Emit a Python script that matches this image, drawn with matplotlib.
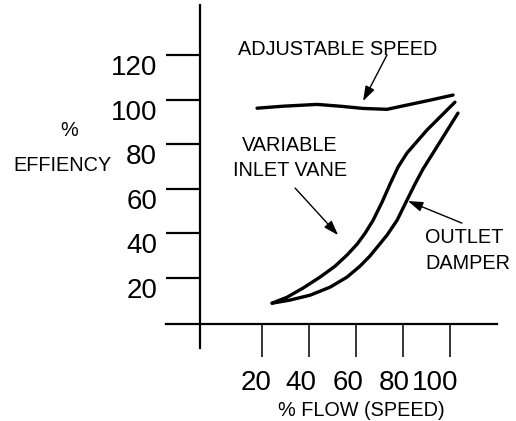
#!/usr/bin/env python
# -*- coding: utf-8 -*-

import matplotlib
matplotlib.use('Agg')
from matplotlib import pyplot as plt
from matplotlib.transforms import ScaledTranslation

plt.rcParams['font.family'] = ['Liberation Sans', 'DejaVu Sans']

# values (flow %, efficiency %)
adjFlow = [17.7, 28.8, 43.2, 53.0, 62.8, 73.0, 82.8, 91.3, 101.1]
adjEff = [96.1, 97.0, 97.8, 97.0, 96.0, 95.6, 97.8, 99.7, 102.0]

vaneFlow = [24.1, 30.5, 37.3, 44.5, 50.9, 56.0, 60.3, 63.7, 67.1, 70.9, 74.3, 77.7, 81.5, 90.0, 96.0, 101.9]
vaneEff = [8.7, 11.4, 15.5, 20.4, 25.3, 30.3, 35.2, 40.1, 45.9, 54.0, 62.1, 69.7, 76.0, 86.3, 92.6, 98.8]

damperFlow = [24.1, 31.7, 40.3, 48.8, 56.0, 61.5, 65.7, 69.2, 73.0, 77.3, 81.5, 84.9, 88.3, 95.5, 103.2]
damperEff = [8.7, 10.1, 12.3, 15.9, 20.4, 25.3, 29.8, 34.3, 39.2, 45.9, 54.9, 62.1, 68.8, 80.9, 93.9]

xTicks = [20, 40, 60, 80, 100]
yTicks = [20, 40, 60, 80, 100, 120]

fig = plt.figure(figsize=(5.16, 4.21), dpi=100)
ax = fig.add_axes([0, 0, 1, 1])
ax.set_xlim(-91.7, 127.9)
ax.set_ylim(-44.1, 144.6)

# hand drawn style axes
for s in ['top', 'right']:
    ax.spines[s].set_visible(False)
ax.spines['left'].set_position(('data', -6.5))
ax.spines['left'].set_bounds(-11.4, 142.3)
ax.spines['bottom'].set_position(('data', -0.6))
ax.spines['bottom'].set_bounds(-20.9, 119.8)
for s in ['left', 'bottom']:
    ax.spines[s].set_linewidth(1.6)
    ax.spines[s].set_zorder(1)

ax.set_xticks(xTicks)
ax.set_yticks(yTicks)
ax.set_xticklabels([str(v) for v in xTicks])
ax.set_yticklabels([str(v) for v in yTicks])
ax.tick_params(axis='y', direction='out', length=24.5, width=1.6, pad=6.5, labelsize=20)
ax.tick_params(axis='x', direction='out', length=23.8, width=1.1, pad=9, labelsize=20)
for lab in ax.get_yticklabels():
    lab.set_transform(lab.get_transform() + ScaledTranslation(0, -0.10, fig.dpi_scale_trans))
xNudge = [-0.06, -0.09, -0.08, -0.09, -0.15]
for lab, dx in zip(ax.get_xticklabels(), xNudge):
    lab.set_transform(lab.get_transform() + ScaledTranslation(dx, 0, fig.dpi_scale_trans))

lw = 2.4
ax.plot(adjFlow, adjEff, color='black', lw=lw, solid_capstyle='round', solid_joinstyle='round')
ax.plot(vaneFlow, vaneEff, color='black', lw=lw, solid_capstyle='round', solid_joinstyle='round')
ax.plot(damperFlow, damperEff, color='black', lw=lw, solid_capstyle='round', solid_joinstyle='round')

arrow = dict(arrowstyle='-|>,head_length=0.9,head_width=0.3', color='black', lw=1.0, shrinkA=0, shrinkB=0)
ax.annotate('', xy=(62.8, 99.3), xytext=(73.0, 120.0), arrowprops=arrow)
ax.annotate('', xy=(52.2, 39.2), xytext=(33.9, 60.3), arrowprops=arrow)
ax.annotate('', xy=(81.9, 54.5), xytext=(104.9, 44.6), arrowprops=arrow)

ftSize = 14.3
ax.text(52.0, 122.6, 'ADJUSTABLE SPEED', fontsize=ftSize, ha='center', va='center')
ax.text(31.8, 79.2, 'VARIABLE', fontsize=ftSize, ha='center', va='center')
ax.text(31.8, 68.0, 'INLET VANE', fontsize=ftSize, ha='center', va='center')
ax.text(89.2, 38.0, 'OUTLET', fontsize=ftSize, ha='left', va='center')
ax.text(89.2, 26.6, 'DAMPER', fontsize=ftSize, ha='left', va='center')
ax.text(-62.3, 86.3, '%', fontsize=ftSize, ha='center', va='center')
ax.text(-65.3, 70.6, 'EFFIENCY', fontsize=ftSize, ha='center', va='center')
ax.text(62.0, -39.2, '% FLOW (SPEED)', fontsize=ftSize, ha='center', va='center')

plt.savefig('out.png', dpi=100)
